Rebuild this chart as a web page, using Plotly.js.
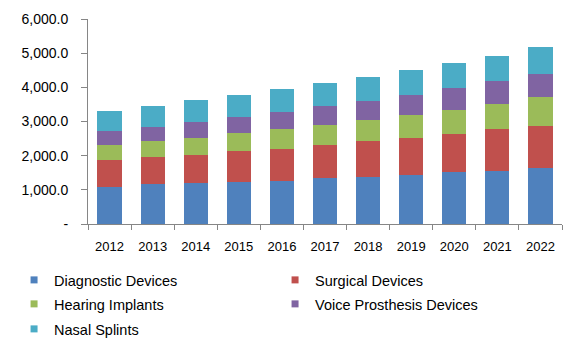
<!DOCTYPE html>
<html>
<head>
<meta charset="utf-8">
<script src="https://cdn.plot.ly/plotly-3.0.1.min.js"></script>
<style>html,body{margin:0;padding:0;background:#fff;}#chart{width:578px;height:353px;}</style>
</head>
<body>
<div id="chart"></div>
<script>
const years = ['2012','2013','2014','2015','2016','2017','2018','2019','2020','2021','2022'];
const diagnosticDevices = [1081, 1159, 1198, 1237, 1266, 1334, 1383, 1441, 1519, 1558, 1626];
const surgicalDevices   = [798, 788, 827, 886, 934, 974, 1032, 1081, 1110, 1217, 1256];
const hearingImplants   = [429, 468, 497, 535, 575, 603, 642, 672, 711, 750, 828];
const voiceProsthesis   = [428, 428, 467, 477, 497, 546, 546, 584, 652, 652, 681];
const nasalSplints      = [575, 604, 643, 633, 681, 681, 711, 721, 721, 750, 779];
const yTickVals = [0, 1000, 2000, 3000, 4000, 5000, 6000];
const yTickText = ['-', '1,000.0', '2,000.0', '3,000.0', '4,000.0', '5,000.0', '6,000.0'];

const names = ['Diagnostic Devices', 'Surgical Devices', 'Hearing Implants', 'Voice Prosthesis Devices', 'Nasal Splints'];
const series = [diagnosticDevices, surgicalDevices, hearingImplants, voiceProsthesis, nasalSplints];
const colors = ['#4F81BD', '#C0504D', '#9BBB59', '#8064A2', '#4BACC6'];
const legendIds = ['legend', 'legend', 'legend2', 'legend2', 'legend3'];

const traces = series.map((vals, i) => ({
  type: 'bar',
  name: names[i],
  x: years,
  y: vals,
  marker: {color: colors[i], line: {width: 0}},
  showlegend: false,
  hoverinfo: 'none'
}));

// legend-only entries with small square keys
const legendTraces = names.map((n, i) => ({
  type: 'scatter',
  mode: 'markers',
  name: n,
  x: [null],
  y: [null],
  marker: {symbol: 'square', size: 7, color: colors[i]},
  legend: legendIds[i],
  showlegend: true,
  hoverinfo: 'none'
}));

const legendBase = {
  orientation: 'h',
  xanchor: 'left',
  yanchor: 'middle',
  x: -0.156,
  entrywidth: 216,
  font: {family: 'Liberation Sans, Arial, sans-serif', size: 14.5, color: '#000'},
  bgcolor: 'rgba(0,0,0,0)',
  borderwidth: 0,
  traceorder: 'normal'
};

const layout = {
  width: 578,
  height: 353,
  margin: {l: 88, r: 16, t: 19, b: 129, autoexpand: false},
  paper_bgcolor: '#fff',
  plot_bgcolor: '#fff',
  barmode: 'stack',
  bargap: 0.44,
  font: {family: 'Liberation Sans, Arial, sans-serif', size: 13, color: '#000'},
  xaxis: {
    type: 'category',
    showline: true,
    linecolor: '#868686',
    linewidth: 1,
    ticks: 'outside',
    tickson: 'boundaries',
    ticklen: 5,
    tickcolor: '#868686',
    ticklabelstandoff: 10,
    showgrid: false,
    zeroline: false,
    tickfont: {size: 13, color: '#000'}
  },
  yaxis: {
    range: [0, 6000],
    tickvals: yTickVals,
    ticktext: yTickText,
    showline: true,
    linecolor: '#868686',
    linewidth: 1,
    ticks: 'outside',
    ticklen: 6,
    tickcolor: '#868686',
    ticklabelstandoff: 10,
    showgrid: false,
    zeroline: false,
    tickfont: {size: 14, color: '#000'}
  },
  legend: Object.assign({}, legendBase, {y: -0.273}),
  legend2: Object.assign({}, legendBase, {y: -0.39}),
  legend3: Object.assign({}, legendBase, {y: -0.512}),
  showlegend: true
};

Plotly.newPlot('chart', traces.concat(legendTraces), layout, {displayModeBar: false, staticPlot: true});
</script>
</body>
</html>
